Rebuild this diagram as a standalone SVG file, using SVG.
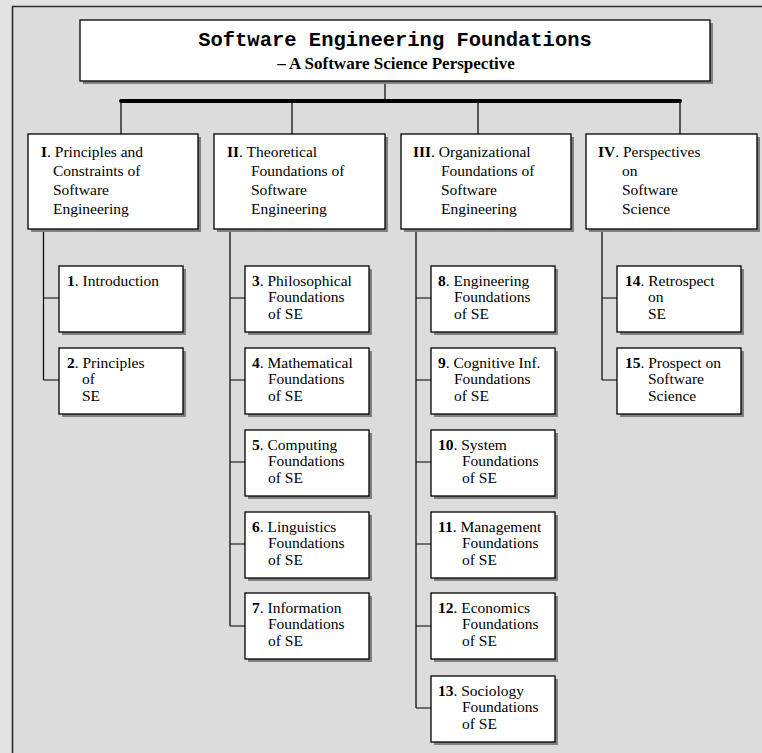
<svg xmlns="http://www.w3.org/2000/svg" width="762" height="753" viewBox="0 0 762 753">
<style>
.bg{fill:#e3e3e3}
.panel{fill:#dcdcdc}
.frame{stroke:#2a2a2a;stroke-width:1.6;fill:none}
.sh{fill:#808080}
.box{fill:#ffffff;stroke:#000;stroke-width:1.3}
.ln{stroke:#000;stroke-width:1.2;fill:none}
.bar{stroke:#000;stroke-width:4;fill:none;stroke-linecap:round}
.t{font-family:"Liberation Serif","Times New Roman",serif;font-size:15.5px;fill:#000}
.b{font-weight:bold}
.title{font-family:"Liberation Mono","Courier New",monospace;font-size:20.5px;font-weight:bold;fill:#000}
.sub{font-family:"Liberation Serif","Times New Roman",serif;font-size:17px;font-weight:bold;fill:#000}
</style>
<rect class="bg" x="0" y="0" width="762" height="753"/>
<rect class="panel" x="12.5" y="6.5" width="749.5" height="746.5"/>
<path class="frame" d="M12.5,753 V6.5 H762"/>

<g id="connectors">
<path class="ln" d="M385,81 V101"/>
<path class="bar" d="M121,101 H680"/>
<path class="ln" d="M121,101 V134 M292,101 V134 M478,101 V134 M680,101 V134"/>
<path class="ln" d="M43.5,229 V380 M43.5,298 H59 M43.5,380 H59"/>
<path class="ln" d="M230,229 V626 M230,298 H245 M230,380 H245 M230,462 H245 M230,544 H245 M230,626 H245"/>
<path class="ln" d="M416,229 V708 M416,298 H431 M416,380 H431 M416,462 H431 M416,544 H431 M416,626 H431 M416,708 H431"/>
<path class="ln" d="M602,229 V380 M602,298 H617 M602,380 H617"/>
</g>

<g id="title">
<rect class="sh" x="83" y="23" width="630" height="61"/>
<rect class="box" x="80" y="20" width="630" height="61"/>
<text class="title" x="395" y="46" text-anchor="middle">Software Engineering Foundations</text>
<text class="sub" x="396" y="69" text-anchor="middle">– A Software Science Perspective</text>
</g>

<g id="partI">
<rect class="sh" x="31" y="137" width="170" height="95"/>
<rect class="box" x="28" y="134" width="170" height="95"/>
<text class="t"><tspan x="41" y="157"><tspan class="b">I</tspan>. Principles and</tspan><tspan x="53" y="176">Constraints of</tspan><tspan x="53" y="195">Software</tspan><tspan x="53" y="214">Engineering</tspan></text>
</g>
<g id="partII">
<rect class="sh" x="217" y="137" width="171" height="95"/>
<rect class="box" x="214" y="134" width="171" height="95"/>
<text class="t"><tspan x="227" y="157"><tspan class="b">II</tspan>. Theoretical</tspan><tspan x="251" y="176">Foundations of</tspan><tspan x="251" y="195">Software</tspan><tspan x="251" y="214">Engineering</tspan></text>
</g>
<g id="partIII">
<rect class="sh" x="404" y="137" width="170" height="95"/>
<rect class="box" x="401" y="134" width="170" height="95"/>
<text class="t"><tspan x="413" y="157"><tspan class="b">III</tspan>. Organizational</tspan><tspan x="441" y="176">Foundations of</tspan><tspan x="441" y="195">Software</tspan><tspan x="441" y="214">Engineering</tspan></text>
</g>
<g id="partIV">
<rect class="sh" x="589" y="137" width="171" height="95"/>
<rect class="box" x="586" y="134" width="171" height="95"/>
<text class="t"><tspan x="598" y="157"><tspan class="b">IV</tspan>. Perspectives</tspan><tspan x="622" y="176">on</tspan><tspan x="622" y="195">Software</tspan><tspan x="622" y="214">Science</tspan></text>
</g>

<g id="ch1">
<rect class="sh" x="62" y="269" width="124" height="66"/>
<rect class="box" x="59" y="266" width="124" height="66"/>
<text class="t"><tspan x="67" y="286"><tspan class="b">1</tspan>. Introduction</tspan></text>
</g>
<g id="ch2">
<rect class="sh" x="62" y="351" width="124" height="66"/>
<rect class="box" x="59" y="348" width="124" height="66"/>
<text class="t"><tspan x="67" y="368"><tspan class="b">2</tspan>. Principles</tspan><tspan x="82" y="384.4">of</tspan><tspan x="82" y="400.8">SE</tspan></text>
</g>

<g id="ch3">
<rect class="sh" x="248" y="269" width="124" height="66"/>
<rect class="box" x="245" y="266" width="124" height="66"/>
<text class="t"><tspan x="252" y="286"><tspan class="b">3</tspan>. Philosophical</tspan><tspan x="268" y="302.4">Foundations</tspan><tspan x="268" y="318.8">of SE</tspan></text>
</g>
<g id="ch4">
<rect class="sh" x="248" y="351" width="124" height="66"/>
<rect class="box" x="245" y="348" width="124" height="66"/>
<text class="t"><tspan x="252" y="368"><tspan class="b">4</tspan>. Mathematical</tspan><tspan x="268" y="384.4">Foundations</tspan><tspan x="268" y="400.8">of SE</tspan></text>
</g>
<g id="ch5">
<rect class="sh" x="248" y="433" width="124" height="66"/>
<rect class="box" x="245" y="430" width="124" height="66"/>
<text class="t"><tspan x="252" y="450"><tspan class="b">5</tspan>. Computing</tspan><tspan x="268" y="466.4">Foundations</tspan><tspan x="268" y="482.8">of SE</tspan></text>
</g>
<g id="ch6">
<rect class="sh" x="248" y="515" width="124" height="66"/>
<rect class="box" x="245" y="512" width="124" height="66"/>
<text class="t"><tspan x="252" y="532"><tspan class="b">6</tspan>. Linguistics</tspan><tspan x="268" y="548.4">Foundations</tspan><tspan x="268" y="564.8">of SE</tspan></text>
</g>
<g id="ch7">
<rect class="sh" x="248" y="596" width="124" height="66"/>
<rect class="box" x="245" y="593" width="124" height="66"/>
<text class="t"><tspan x="252" y="613"><tspan class="b">7</tspan>. Information</tspan><tspan x="268" y="629.4">Foundations</tspan><tspan x="268" y="645.8">of SE</tspan></text>
</g>

<g id="ch8">
<rect class="sh" x="434" y="269" width="124" height="66"/>
<rect class="box" x="431" y="266" width="124" height="66"/>
<text class="t"><tspan x="438" y="286"><tspan class="b">8</tspan>. Engineering</tspan><tspan x="454" y="302.4">Foundations</tspan><tspan x="454" y="318.8">of SE</tspan></text>
</g>
<g id="ch9">
<rect class="sh" x="434" y="351" width="124" height="66"/>
<rect class="box" x="431" y="348" width="124" height="66"/>
<text class="t"><tspan x="438" y="368"><tspan class="b">9</tspan>. Cognitive Inf.</tspan><tspan x="454" y="384.4">Foundations</tspan><tspan x="454" y="400.8">of SE</tspan></text>
</g>
<g id="ch10">
<rect class="sh" x="434" y="433" width="124" height="66"/>
<rect class="box" x="431" y="430" width="124" height="66"/>
<text class="t"><tspan x="438" y="450"><tspan class="b">10</tspan>. System</tspan><tspan x="462" y="466.4">Foundations</tspan><tspan x="462" y="482.8">of SE</tspan></text>
</g>
<g id="ch11">
<rect class="sh" x="434" y="515" width="124" height="66"/>
<rect class="box" x="431" y="512" width="124" height="66"/>
<text class="t"><tspan x="438" y="532"><tspan class="b">11</tspan>. Management</tspan><tspan x="462" y="548.4">Foundations</tspan><tspan x="462" y="564.8">of SE</tspan></text>
</g>
<g id="ch12">
<rect class="sh" x="434" y="596" width="124" height="66"/>
<rect class="box" x="431" y="593" width="124" height="66"/>
<text class="t"><tspan x="438" y="613"><tspan class="b">12</tspan>. Economics</tspan><tspan x="462" y="629.4">Foundations</tspan><tspan x="462" y="645.8">of SE</tspan></text>
</g>
<g id="ch13">
<rect class="sh" x="434" y="679" width="124" height="66"/>
<rect class="box" x="431" y="676" width="124" height="66"/>
<text class="t"><tspan x="438" y="696"><tspan class="b">13</tspan>. Sociology</tspan><tspan x="462" y="712.4">Foundations</tspan><tspan x="462" y="728.8">of SE</tspan></text>
</g>

<g id="ch14">
<rect class="sh" x="620" y="269" width="124" height="66"/>
<rect class="box" x="617" y="266" width="124" height="66"/>
<text class="t"><tspan x="625" y="286"><tspan class="b">14</tspan>. Retrospect</tspan><tspan x="648" y="302.4">on</tspan><tspan x="648" y="318.8">SE</tspan></text>
</g>
<g id="ch15">
<rect class="sh" x="620" y="351" width="124" height="66"/>
<rect class="box" x="617" y="348" width="124" height="66"/>
<text class="t"><tspan x="625" y="368"><tspan class="b">15</tspan>. Prospect on</tspan><tspan x="648" y="384.4">Software</tspan><tspan x="648" y="400.8">Science</tspan></text>
</g>
</svg>
